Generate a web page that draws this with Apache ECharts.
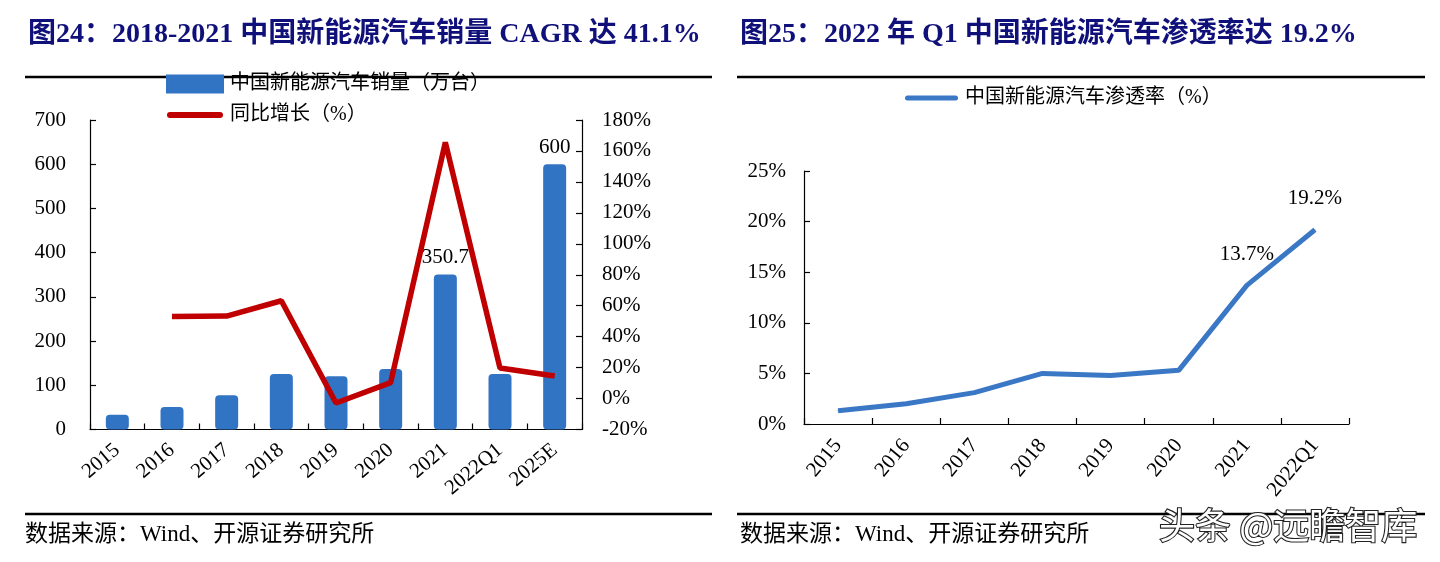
<!DOCTYPE html>
<html><head><meta charset="utf-8">
<script src="https://cdn.jsdelivr.net/npm/echarts@6/dist/echarts.min.js"></script>
<style>html,body{margin:0;padding:0;background:#fff}#c{width:1440px;height:562px}</style>
</head><body><div id="c"></div>
<script>
// ---- data ----
const salesCategories = ['2015','2016','2017','2018','2019','2020','2021','2022Q1','2025E'];
const salesValues = [33.1, 50.7, 77.7, 125.6, 120.6, 136.7, 350.7, 125.7, 600];
const growthValues = [null, 53.0, 53.3, 63.2, -2.9, 10.3, 165.5, 19.7, 14.6];
const salesLabeled = ['2021', '2025E'];
const salesAxisRange = [0, 700, 100];
const growthAxisRange = [-20, 180, 20];

const penCategories = ['2015','2016','2017','2018','2019','2020','2021','2022Q1'];
const penValues = [1.3, 2.0, 3.1, 5.0, 4.8, 5.3, 13.7, 19.2];
const penLabeled = ['2021', '2022Q1'];
const penAxisRange = [0, 25, 5];

const titleLeft = '图24：2018-2021 中国新能源汽车销量 CAGR 达 41.1%';
const titleRight = '图25：2022 年 Q1 中国新能源汽车渗透率达 19.2%';
const sourceText = '数据来源：Wind、开源证券研究所';
const watermark = '头条 @远瞻智库';
const legendSales = '中国新能源汽车销量（万台）';
const legendGrowth = '同比增长（%）';
const legendPen = '中国新能源汽车渗透率（%）';

// ---- styles ----
const SERIF = "'Liberation Serif','Times New Roman','Noto Sans CJK SC',serif";
const CJK = "'Liberation Serif','Noto Sans CJK SC',serif";
const NAVY = '#10107a';
const BLUE = '#3274c4';
const RED = '#c00000';
const LBLUE = '#3a78c6';
// thick rounded-end line used as legend icon (aspect kept)
const LINE_ICON_RED = 'path://M3,0 L53,0 A3,3 0 0 1 53,6 L3,6 A3,3 0 0 1 3,0 Z';
const LINE_ICON_BLUE = 'path://M2.5,0 L50.5,0 A2.5,2.5 0 0 1 50.5,5 L2.5,5 A2.5,2.5 0 0 1 2.5,0 Z';

const axisLbl = {color:'#000', fontSize:21, fontFamily:SERIF};
const axisLine = {show:true, lineStyle:{color:'#000', width:1.2}};
const tickIn = {show:true, inside:true, length:6, lineStyle:{color:'#000', width:1.2}};

const chart = echarts.init(document.getElementById('c'), null, {renderer:'canvas'});
chart.setOption({
  animation:false,
  backgroundColor:'#fff',
  legend:[
    {data:[{name:legendSales, icon:'rect'}, {name:legendGrowth, icon:LINE_ICON_RED}], orient:'vertical', left:161, top:69,
     itemWidth:56, itemHeight:17, itemGap:11, itemStyle:{}, symbolKeepAspect:true,
     textStyle:{fontSize:20, fontFamily:CJK, color:'#000', padding:[0,0,0,2]}},
    {data:[{name:legendPen, icon:LINE_ICON_BLUE}], left:900, top:83, itemWidth:53, itemHeight:17, symbolKeepAspect:true,
     textStyle:{fontSize:20, fontFamily:CJK, color:'#000', padding:[0,0,0,2]}}
  ],
  grid:[
    {left:90, top:120, width:492, height:309.5},
    {left:804, top:171, width:545, height:253}
  ],
  xAxis:[
    {type:'category', gridIndex:0, data:salesCategories, axisLine, axisTick:tickIn,
     axisLabel:Object.assign({}, axisLbl, {rotate:40, margin:18, interval:0})},
    {type:'category', gridIndex:1, data:penCategories, axisLine, axisTick:tickIn,
     axisLabel:Object.assign({}, axisLbl, {rotate:50, margin:18, interval:0})}
  ],
  yAxis:[
    {type:'value', gridIndex:0, min:salesAxisRange[0], max:salesAxisRange[1], interval:salesAxisRange[2],
     axisLine, axisTick:tickIn, splitLine:{show:false}, axisLabel:Object.assign({}, axisLbl, {margin:24})},
    {type:'value', gridIndex:0, position:'right', min:growthAxisRange[0], max:growthAxisRange[1], interval:growthAxisRange[2],
     axisLine, axisTick:tickIn, splitLine:{show:false}, axisLabel:Object.assign({}, axisLbl, {margin:20, formatter:'{value}%'})},
    {type:'value', gridIndex:1, min:penAxisRange[0], max:penAxisRange[1], interval:penAxisRange[2],
     axisLine, axisTick:tickIn, splitLine:{show:false}, axisLabel:Object.assign({}, axisLbl, {margin:18, formatter:'{value}%'})}
  ],
  series:[
    {name:legendSales, type:'bar', xAxisIndex:0, yAxisIndex:0, data:salesValues, barWidth:23,
     itemStyle:{color:BLUE, borderColor:BLUE, borderWidth:4, borderRadius:2},
     label:{show:true, position:'top', distance:6, color:'#000', fontSize:21, fontFamily:SERIF,
       formatter:p => salesLabeled.includes(p.name) ? String(p.value) : ''}},
    {name:legendGrowth, type:'line', xAxisIndex:0, yAxisIndex:1, data:growthValues, symbol:'none',
     lineStyle:{color:RED, width:5.5}, itemStyle:{color:RED}},
    {name:legendPen, type:'line', xAxisIndex:1, yAxisIndex:2, data:penValues,
     symbol:'circle', symbolSize:1, showSymbol:true,
     lineStyle:{color:LBLUE, width:5}, itemStyle:{color:LBLUE},
     label:{show:true, position:'top', distance:20, color:'#000', fontSize:21, fontFamily:SERIF,
       formatter:p => penLabeled.includes(p.name) ? p.value + '%' : ''}}
  ],
  graphic:[
    {type:'text', left:28, top:21, style:{text:titleLeft, font:'bold 28px '+SERIF, fill:NAVY}},
    {type:'text', left:740, top:21, style:{text:titleRight, font:'bold 28px '+SERIF, fill:NAVY}},
    {type:'line', shape:{x1:25, y1:77, x2:712, y2:77}, style:{stroke:'#000', lineWidth:2.5}},
    {type:'line', shape:{x1:737, y1:77, x2:1425, y2:77}, style:{stroke:'#000', lineWidth:2.5}},
    {type:'line', shape:{x1:25, y1:514, x2:712, y2:514}, style:{stroke:'#000', lineWidth:2.5}},
    {type:'line', shape:{x1:737, y1:514, x2:1425, y2:514}, style:{stroke:'#000', lineWidth:2.5}},
    {type:'text', left:25, top:523, style:{text:sourceText, font:'23px '+CJK, fill:'#000'}},
    {type:'text', left:740, top:523, style:{text:sourceText, font:'23px '+CJK, fill:'#000'}},
    {type:'text', left:1158, top:506, style:{text:watermark, font:"36px 'Noto Sans CJK SC',sans-serif", fill:'#fff', stroke:'#222', lineWidth:2.2}}
  ]
});
</script></body></html>
